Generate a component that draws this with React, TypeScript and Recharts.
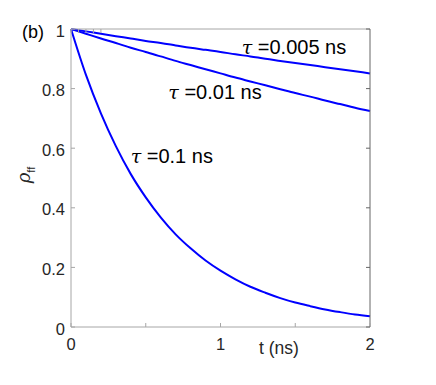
import React from 'react';
import { LineChart, Line, XAxis, YAxis, ReferenceDot } from 'recharts';

// time (ns)
const times = [0, 0.1, 0.2, 0.3, 0.4, 0.5, 0.6, 0.7, 0.8, 0.9, 1, 1.1, 1.2, 1.3, 1.4, 1.5, 1.6, 1.7, 1.8, 1.9, 2];
// rho_ff for tau = 0.005 ns
const rhoTau005 = [1, 0.992, 0.984, 0.976, 0.968, 0.96, 0.953, 0.945, 0.937, 0.93, 0.923, 0.915, 0.908, 0.9, 0.893, 0.886, 0.879, 0.872, 0.865, 0.858, 0.851];
// rho_ff for tau = 0.01 ns
const rhoTau01 = [1, 0.984, 0.968, 0.953, 0.937, 0.923, 0.908, 0.893, 0.879, 0.865, 0.851, 0.837, 0.824, 0.811, 0.798, 0.785, 0.773, 0.76, 0.748, 0.736, 0.725];
// rho_ff for tau = 0.1 ns
const rhoTau1 = [1, 0.846, 0.717, 0.607, 0.513, 0.435, 0.368, 0.311, 0.264, 0.223, 0.189, 0.16, 0.135, 0.115, 0.097, 0.082, 0.07, 0.059, 0.05, 0.042, 0.036];

const xTicks = [0, 0.5, 1, 1.5, 2];
const yTicks = [0, 0.2, 0.4, 0.6, 0.8, 1];

// curve annotations: text and where it starts (t, rho of baseline)
const tauLabels = ['0.005 ns', '0.01 ns', '0.1 ns'];
const tauLabelT = [1.142, 0.651, 0.399];
const tauLabelRho = [0.916, 0.764, 0.549];

const data = times.map((t, i) => ({
  t,
  a: rhoTau005[i],
  b: rhoTau01[i],
  c: rhoTau1[i],
}));

const FONT = '"Liberation Sans", Arial, Helvetica, sans-serif';
const AXIS_LIGHT = '#a6a6a6';
const AXIS_DARK = '#666666';
const TEXT = '#262626';
const BLUE = '#0000ff';
const TICK_LEN = 4;
const TICK_FONT = 16.5;

const LeftTick = (props: any) => {
  const { x, y, payload } = props;
  return (
    <g>
      <line x1={x} x2={x + TICK_LEN} y1={y} y2={y} stroke={AXIS_LIGHT} />
      <text x={x - 6} y={y + 7.5} textAnchor="end" fontSize={TICK_FONT} fontFamily={FONT} fill={TEXT}>
        {payload.value}
      </text>
    </g>
  );
};

const RightTick = (props: any) => {
  const { x, y } = props;
  return <line x1={x} x2={x - TICK_LEN} y1={y} y2={y} stroke={AXIS_DARK} />;
};

const BottomTick = (props: any) => {
  const { x, y, payload } = props;
  const v = payload.value;
  return (
    <g>
      <line x1={x} x2={x} y1={y} y2={y - TICK_LEN} stroke={AXIS_LIGHT} />
      {Number.isInteger(v) && (
        <text x={x} y={y + 23} textAnchor="middle" fontSize={TICK_FONT} fontFamily={FONT} fill={TEXT}>
          {v}
        </text>
      )}
    </g>
  );
};

const TopTick = (props: any) => {
  const { x, y } = props;
  return <line x1={x} x2={x} y1={y} y2={y + TICK_LEN} stroke={AXIS_LIGHT} />;
};

const tauLabel = (txt: string) => (props: any) => {
  const { x, y } = props.viewBox;
  return (
    <text x={x} y={y} fontSize={20} fontFamily={FONT} fill="#000">
      <tspan fontStyle="italic" fontFamily='"DejaVu Serif", serif' fontSize={19}>τ</tspan>
      <tspan> =</tspan>
      <tspan>{txt}</tspan>
    </text>
  );
};

const YLabel = (props: any) => {
  const { x, y, height } = props.viewBox;
  const cx = x + 30;
  const cy = y + height / 2 - 3;
  return (
    <text
      transform={`translate(${cx},${cy}) rotate(-90)`}
      textAnchor="middle"
      fontFamily={FONT}
      fill={TEXT}
    >
      <tspan fontSize={18} fontStyle="italic" fontFamily='"DejaVu Serif", serif'>ρ</tspan>
      <tspan fontSize={11} dy={5}>ff</tspan>
    </text>
  );
};

const XLabel = (props: any) => {
  const { x, y } = props.viewBox;
  return (
    <text x={x + 208} y={y + 27} textAnchor="middle" fontSize={17.5} fontFamily={FONT} fill={TEXT}>
      t (ns)
    </text>
  );
};

export default function App() {
  return (
    <div style={{ position: 'absolute', left: 0, top: 0, width: 436, height: 385, background: '#fff' }}>
      <LineChart width={436} height={385} data={data} margin={{ top: 0, right: 0, bottom: 0, left: 0 }}>
        <XAxis
          dataKey="t"
          type="number"
          domain={[0, 2]}
          ticks={xTicks}
          interval={0}
          height={58}
          tickSize={0}
          tickMargin={0}
          tickLine={false}
          axisLine={{ stroke: AXIS_LIGHT }}
          tick={<BottomTick />}
          label={<XLabel />}
        />
        <XAxis
          xAxisId="top"
          orientation="top"
          type="number"
          domain={[0, 2]}
          allowDataOverflow
          ticks={xTicks}
          interval={0}
          height={29}
          tickSize={0}
          tickMargin={0}
          tickLine={false}
          axisLine={{ stroke: AXIS_LIGHT }}
          tick={<TopTick />}
        />
        <YAxis
          type="number"
          domain={[0, 1]}
          ticks={yTicks}
          interval={0}
          width={71}
          tickSize={0}
          tickMargin={0}
          tickLine={false}
          axisLine={{ stroke: AXIS_LIGHT }}
          tick={<LeftTick />}
          label={<YLabel />}
        />
        <YAxis
          yAxisId="right"
          orientation="right"
          type="number"
          domain={[0, 1]}
          allowDataOverflow
          ticks={yTicks}
          interval={0}
          width={66}
          tickSize={0}
          tickMargin={0}
          tickLine={false}
          axisLine={{ stroke: AXIS_DARK }}
          tick={<RightTick />}
        />
        <Line type="monotone" dataKey="a" stroke={BLUE} strokeWidth={2} dot={false} isAnimationActive={false} />
        <Line type="monotone" dataKey="b" stroke={BLUE} strokeWidth={2} dot={false} isAnimationActive={false} />
        <Line type="monotone" dataKey="c" stroke={BLUE} strokeWidth={2} dot={false} isAnimationActive={false} />
        {tauLabels.map((txt, i) => (
          <ReferenceDot
            key={txt}
            x={tauLabelT[i]}
            y={tauLabelRho[i]}
            r={0}
            stroke="none"
            fill="none"
            label={tauLabel(txt)}
          />
        ))}
        <text x={22} y={38} fontSize={18} fontFamily={FONT} fill="#000">
          (b)
        </text>
      </LineChart>
    </div>
  );
}
